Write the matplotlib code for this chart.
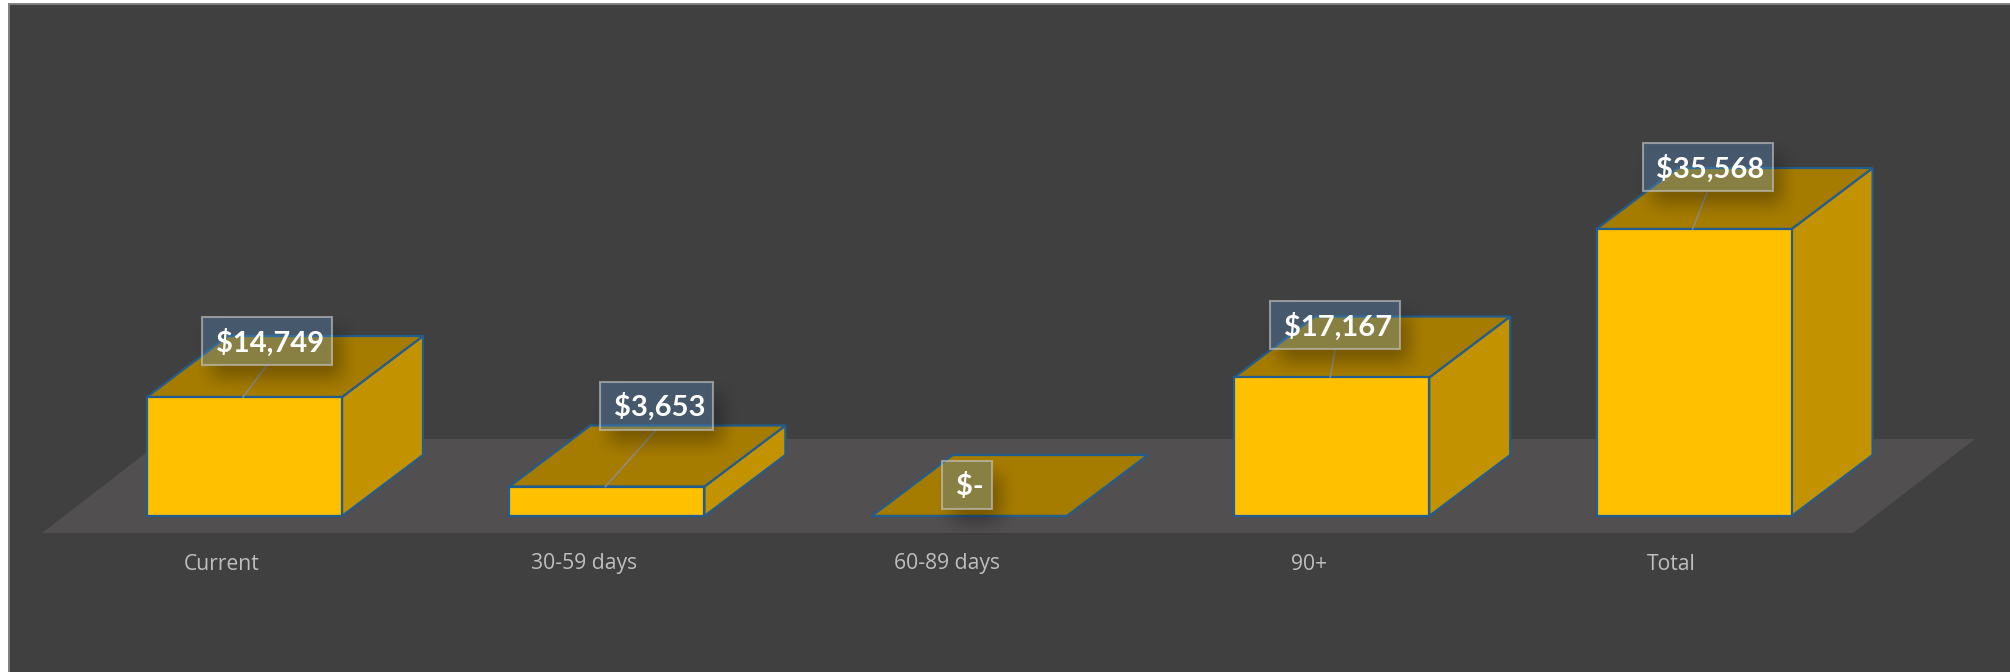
import numpy as np
import matplotlib
matplotlib.use("Agg")
import matplotlib.pyplot as plt
from matplotlib.patches import Polygon, Rectangle

categories = ["Current", "30-59 days", "60-89 days", "90+", "Total"]
values = [14749, 3653, 0, 17167, 35568]
value_labels = ["$14,749", "$3,653", "$-", "$17,167", "$35,568"]

W, H = 2010, 672
BASE_PX = 516      # pixel row of the zero line
FIRST_PX = 245     # pixel column of the first category
STEP_PX = 362.4    # pixels between categories
PX_PER_USD = 287 / 35568

BG = "#404040"
FLOOR = "#514F50"
FRONT = "#FFC000"
SIDE = "#C29200"
TOP = "#A67C00"
EDGE = "#235C8E"
TICK = "#BFBFBF"

# data label boxes, pixels relative to the top middle of each front face
label_dx = [23, 50, -2, 4, 14]
label_dy = [32, 57, 7, 28, 38]
label_w = [130, 113, 50, 130, 130]
label_h = 48


def col(px):
    return (px - FIRST_PX) / STEP_PX


def val(py):
    return (BASE_PX - py) / PX_PER_USD


bar_w = 195 / STEP_PX
depth_x = 81 / STEP_PX
depth_y = 61 / PX_PER_USD

fig = plt.figure(figsize=(W / 100, H / 100), dpi=100, facecolor="white")
ax = fig.add_axes([0, 0, 1, 1])
ax.set_xlim(col(0), col(W))
ax.set_ylim(val(H), val(0))
ax.axis("off")

# chart area with its thin border
ax.add_patch(Rectangle((col(8.5), val(H + 5)), (W + 5) / STEP_PX, (H + 1.5) / PX_PER_USD,
                       facecolor=BG, edgecolor="#7F7F7F", linewidth=1.4, zorder=0))

# floor
ax.add_patch(Polygon([(col(42), val(533)), (col(1853), val(533)),
                      (col(1975), val(439)), (col(164), val(439))],
                     closed=True, facecolor=FLOOR, edgecolor="none", zorder=1))

# boxes
for i, v in enumerate(values):
    l = i - bar_w / 2 - 0.5 / STEP_PX
    r = l + bar_w
    ax.add_patch(Polygon([(r, 0), (r + depth_x, depth_y), (r + depth_x, v + depth_y), (r, v)],
                         closed=True, facecolor=SIDE, edgecolor=EDGE, linewidth=1.6, zorder=2))
    ax.add_patch(Polygon([(l, v), (r, v), (r + depth_x, v + depth_y), (l + depth_x, v + depth_y)],
                         closed=True, facecolor=TOP, edgecolor=EDGE, linewidth=1.6, zorder=2))
    ax.add_patch(Rectangle((l, 0), bar_w, v, facecolor=FRONT, edgecolor=EDGE, linewidth=1.6, zorder=3))
    ax.text(i - 23 / STEP_PX, val(564), categories[i], color=TICK, fontsize=15.2,
            family="Open Sans", ha="center", va="center", zorder=8)

# data labels with leader, soft shadow and see-through box
for i, v in enumerate(values):
    top_px = BASE_PX - v * PX_PER_USD
    cx = FIRST_PX + STEP_PX * i + label_dx[i] - 1
    y1 = top_px - label_dy[i]
    y0 = y1 - label_h
    x0 = cx - label_w[i] / 2
    x1 = cx + label_w[i] / 2

    if label_dy[i] > 10:
        ax.plot([i - 2 / STEP_PX, col(cx)], [v, val(y1)], color="#8C8C8C", linewidth=1.1, zorder=4)

    blur = 18
    sx0, sx1, sy0, sy1 = x0 + 9, x1 + 9, y0 + 13, y1 + 13
    px = np.arange(sx0 - blur, sx1 + blur)
    py = np.arange(sy0 - blur, sy1 + blur)
    gx, gy = np.meshgrid(px + 0.5, py + 0.5)
    ramp = lambda t: np.clip(t, 0, 1) ** 2 * (3 - 2 * np.clip(t, 0, 1))
    a = (ramp((gx - sx0 + blur) / (2 * blur)) * ramp((sx1 + blur - gx) / (2 * blur))
         * ramp((gy - sy0 + blur) / (2 * blur)) * ramp((sy1 + blur - gy) / (2 * blur))) * 0.30
    a[(gx > x0) & (gx < x1) & (gy > y0) & (gy < y1)] = 0
    shadow = np.zeros(a.shape + (4,))
    shadow[..., 3] = a
    ax.imshow(shadow, extent=(col(px[0]), col(px[-1] + 1), val(py[-1] + 1), val(py[0])),
              origin="upper", aspect="auto", interpolation="bilinear", zorder=4)

    ax.add_patch(Rectangle((col(x0), val(y1)), label_w[i] / STEP_PX, label_h / PX_PER_USD,
                           facecolor=(0.32, 0.54, 0.75, 0.35), edgecolor=(0.78, 0.78, 0.78, 0.62),
                           linewidth=1.5, zorder=5))
    ax.text(col(cx + 3), val((y0 + y1) / 2 + 1.5), value_labels[i], color="white", fontsize=21,
            family="Lato", fontweight="bold", ha="center", va="center", zorder=6)

ax.set_xlim(col(0), col(W))
ax.set_ylim(val(H), val(0))

fig.savefig("out.png", dpi=100, facecolor="white")
